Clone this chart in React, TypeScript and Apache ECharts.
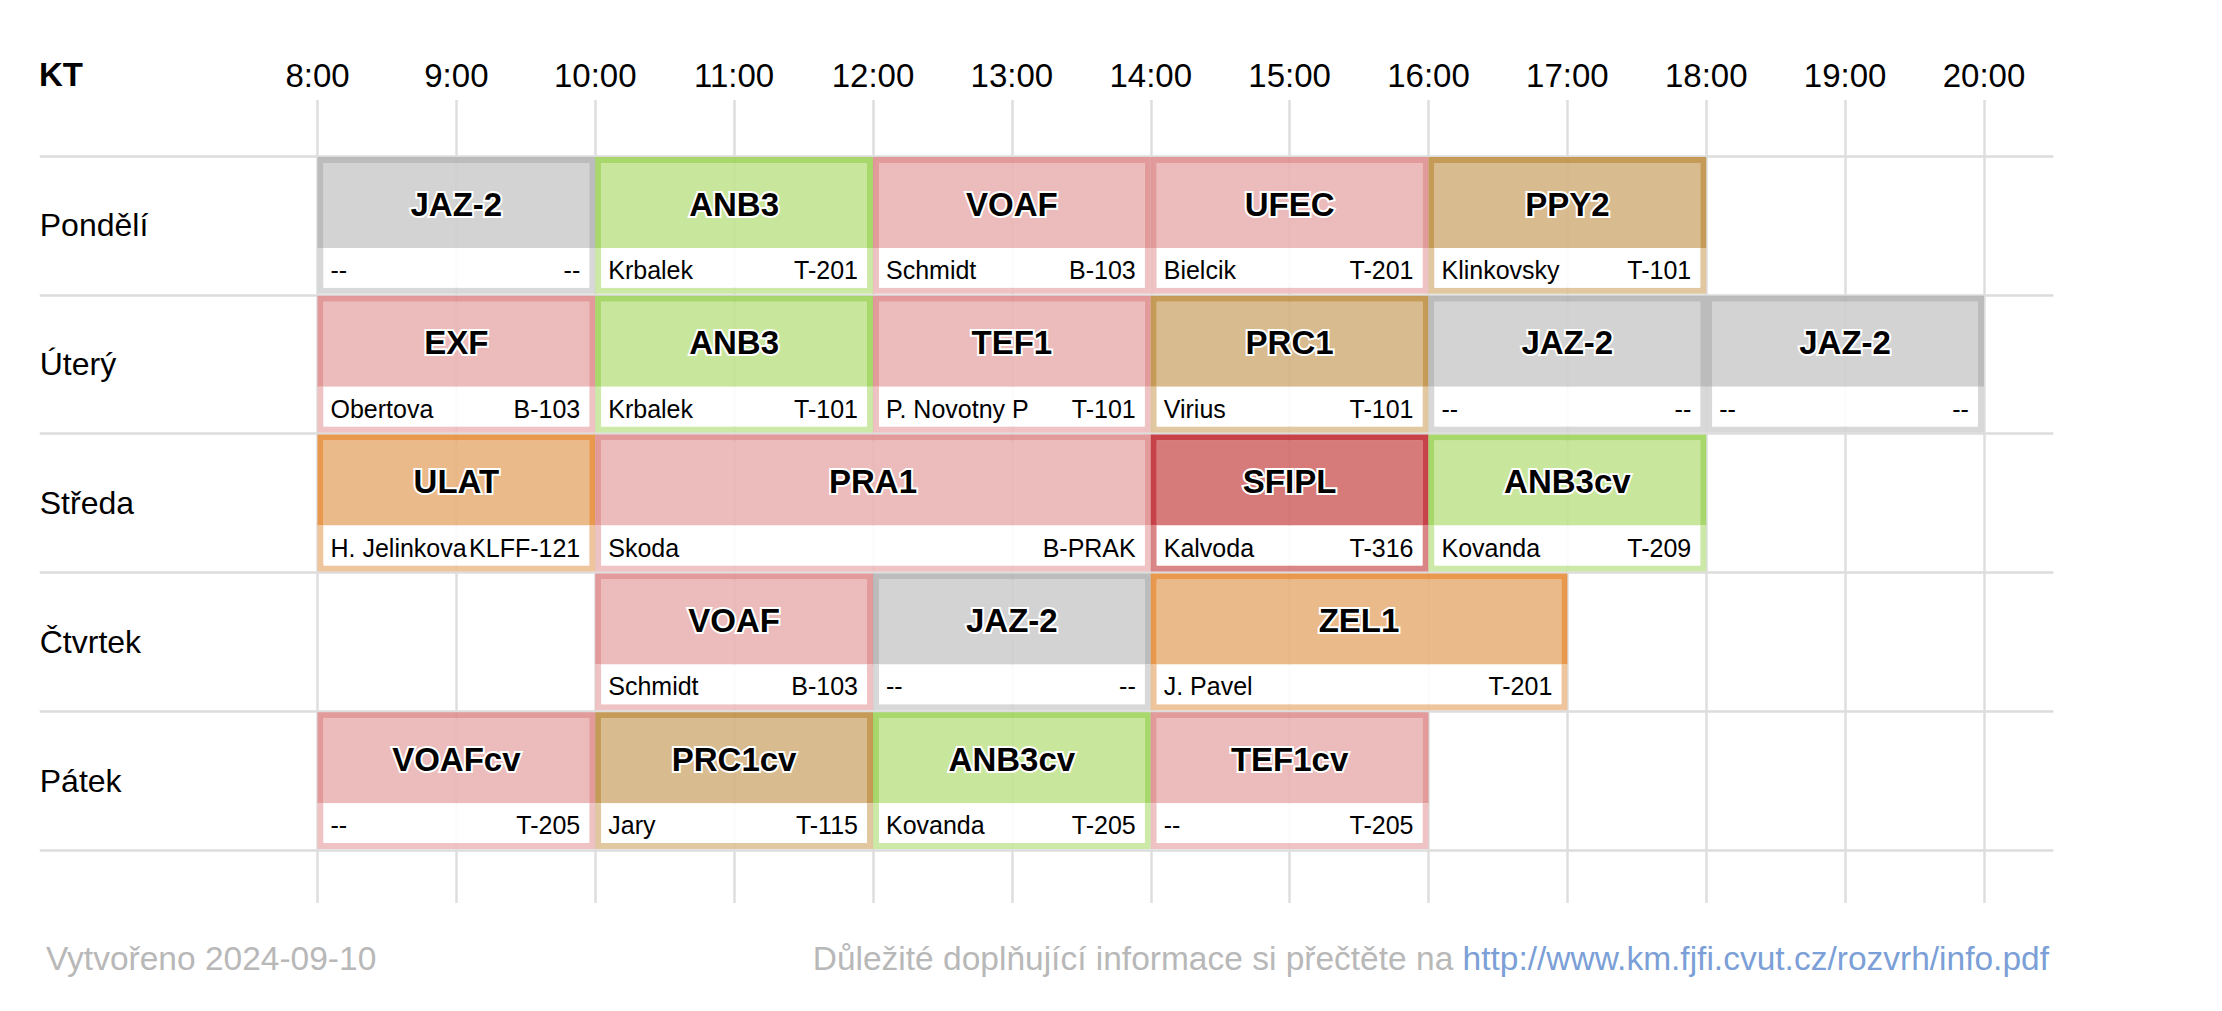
import React, { useEffect, useRef } from "react";
import * as echarts from "echarts";

// ---------- data ----------
const days = ["Pondělí", "Úterý", "Středa", "Čtvrtek", "Pátek"];
const hourTicks = [8, 20]; // first and last hour on the time axis

const eventDay = [0, 0, 0, 0, 0, 1, 1, 1, 1, 1, 1, 2, 2, 2, 2, 3, 3, 3, 4, 4, 4, 4];
const eventStart = [8, 10, 12, 14, 16, 8, 10, 12, 14, 16, 18, 8, 10, 14, 16, 10, 12, 14, 8, 10, 12, 14];
const eventEnd = [10, 12, 14, 16, 18, 10, 12, 14, 16, 18, 20, 10, 14, 16, 18, 12, 14, 17, 10, 12, 14, 16];
const eventCode = [
  "JAZ-2", "ANB3", "VOAF", "UFEC", "PPY2",
  "EXF", "ANB3", "TEF1", "PRC1", "JAZ-2", "JAZ-2",
  "ULAT", "PRA1", "SFIPL", "ANB3cv",
  "VOAF", "JAZ-2", "ZEL1",
  "VOAFcv", "PRC1cv", "ANB3cv", "TEF1cv",
];
const eventTeacher = [
  "--", "Krbalek", "Schmidt", "Bielcik", "Klinkovsky",
  "Obertova", "Krbalek", "P. Novotny P", "Virius", "--", "--",
  "H. Jelinkova", "Skoda", "Kalvoda", "Kovanda",
  "Schmidt", "--", "J. Pavel",
  "--", "Jary", "Kovanda", "--",
];
const eventRoom = [
  "--", "T-201", "B-103", "T-201", "T-101",
  "B-103", "T-101", "T-101", "T-101", "--", "--",
  "KLFF-121", "B-PRAK", "T-316", "T-209",
  "B-103", "--", "T-201",
  "T-205", "T-115", "T-205", "T-205",
];
const headerLabel = "KT";
const footerLeft = "Vytvořeno 2024-09-10";
const footerText = "Důležité doplňující informace si přečtěte na ";
const footerLink = "http://www.km.fjfi.cvut.cz/rozvrh/info.pdf";

// ---------- styles ----------
const FONT = "'Liberation Sans', Arial, Helvetica, sans-serif";
const palette: Record<string, { fill: string; strong: string; light: string }> = {
  gray: { fill: "#d3d3d3", strong: "#bcbcbc", light: "#d8d8d8" },
  green: { fill: "#c8e79c", strong: "#a9d86b", light: "#cde9a8" },
  pink: { fill: "#ecbcbc", strong: "#e39a9a", light: "#efc3c3" },
  tan: { fill: "#d8bc90", strong: "#c69b58", light: "#e1c8a1" },
  orange: { fill: "#ebbb8b", strong: "#e8994f", light: "#efc59d" },
  darkred: { fill: "#d67b7b", strong: "#c8434a", light: "#da8686" },
};
const courseColor: Record<string, string> = {
  "JAZ-2": "gray",
  ANB3: "green",
  ANB3cv: "green",
  VOAF: "pink",
  VOAFcv: "pink",
  UFEC: "pink",
  EXF: "pink",
  TEF1: "pink",
  TEF1cv: "pink",
  PRA1: "pink",
  PPY2: "tan",
  PRC1: "tan",
  PRC1cv: "tan",
  ULAT: "orange",
  ZEL1: "orange",
  SFIPL: "darkred",
};

const ALPHA = 0.9;
function tint(hex: string, a: number = ALPHA) {
  const f = (i: number) => {
    const c = parseInt(hex.slice(i, i + 2), 16);
    return Math.max(0, Math.min(255, Math.round((c - 255 * (1 - a)) / a)));
  };
  return `rgba(${f(1)},${f(3)},${f(5)},${a})`;
}

export default function App() {
  const ref = useRef<HTMLDivElement>(null);

  useEffect(() => {
    if (!ref.current) return;
    const chart = echarts.init(ref.current, null, { renderer: "svg" });

    const data = eventDay.map((d, i) => [eventStart[i], d, eventEnd[i]]);

    const option: any = {
      animation: false,
      backgroundColor: "#ffffff",
      textStyle: { fontFamily: FONT },
      grid: [
        { left: 317.5, right: 238, top: 100, bottom: 108 },
        { left: 39.75, right: 168.6, top: 156, bottom: 161 },
      ],
      xAxis: [
        {
          gridIndex: 0,
          type: "value",
          min: hourTicks[0],
          max: hourTicks[1],
          interval: 1,
          position: "top",
          axisLine: { show: false },
          axisTick: { show: false },
          axisLabel: {
            formatter: (v: number) => `${v}:00`,
            fontSize: 33,
            color: "#000",
            fontFamily: FONT,
            margin: 8,
          },
          splitLine: { show: true, lineStyle: { color: "#dedede", width: 2.5 } },
        },
        { gridIndex: 1, type: "value", min: 6, max: 20.5, show: false },
      ],
      yAxis: [
        { gridIndex: 0, type: "value", min: 0, max: 1, show: false },
        {
          gridIndex: 1,
          type: "category",
          data: days,
          inverse: true,
          axisLine: { show: false },
          axisTick: { show: false },
          axisLabel: {
            inside: true,
            align: "left",
            margin: 0,
            fontSize: 32,
            color: "#000",
            fontFamily: FONT,
          },
          splitLine: { show: true, lineStyle: { color: "#dcdcdc", width: 2.5 } },
        },
      ],
      series: [
        {
          type: "custom",
          xAxisIndex: 1,
          yAxisIndex: 1,
          data,
          renderItem: (params: any, api: any) => {
            const i = params.dataIndex;
            const s = api.value(0);
            const d = api.value(1);
            const e = api.value(2);
            const p0 = api.coord([s, d]);
            const p1 = api.coord([e, d]);
            const bandH = api.size([0, 1])[1];
            const x0 = p0[0];
            const x1 = p1[0];
            const y0 = p0[1] - bandH / 2 + 1;
            const y1 = p0[1] + bandH / 2 - 1;
            const B = 6;
            const ymid = y0 + 91;
            const pal = palette[courseColor[eventCode[i]]] || palette.gray;
            const panelBottom = y1 - B;
            const textY = (ymid + panelBottom) / 2 + 2;
            return {
              type: "group",
              children: [
                {
                  type: "rect",
                  shape: { x: x0 + B, y: y0 + B, width: x1 - x0 - 2 * B, height: ymid - y0 - B },
                  style: { fill: tint(pal.fill) },
                },
                {
                  type: "polyline",
                  shape: {
                    points: [
                      [x0 + B / 2, ymid],
                      [x0 + B / 2, y0 + B / 2],
                      [x1 - B / 2, y0 + B / 2],
                      [x1 - B / 2, ymid],
                    ],
                  },
                  style: { stroke: tint(pal.strong), lineWidth: B, fill: null },
                },
                {
                  type: "polyline",
                  shape: {
                    points: [
                      [x0 + B / 2, ymid],
                      [x0 + B / 2, y1 - B / 2],
                      [x1 - B / 2, y1 - B / 2],
                      [x1 - B / 2, ymid],
                    ],
                  },
                  style: { stroke: tint(pal.light), lineWidth: B, fill: null },
                },
                {
                  type: "rect",
                  shape: { x: x0 + B, y: ymid, width: x1 - x0 - 2 * B, height: panelBottom - ymid },
                  style: { fill: "rgba(255,255,255,0.9)" },
                },
                {
                  type: "text",
                  style: {
                    x: (x0 + x1) / 2,
                    y: y0 + 47,
                    text: eventCode[i],
                    align: "center",
                    verticalAlign: "middle",
                    font: `bold 33px ${FONT}`,
                    fill: "#000",
                    stroke: "#fff",
                    lineWidth: 4,
                  },
                },
                {
                  type: "text",
                  style: {
                    x: x0 + 13,
                    y: textY,
                    text: eventTeacher[i],
                    align: "left",
                    verticalAlign: "middle",
                    font: `25px ${FONT}`,
                    fill: "#000",
                  },
                },
                {
                  type: "text",
                  style: {
                    x: x1 - 15,
                    y: textY,
                    text: eventRoom[i],
                    align: "right",
                    verticalAlign: "middle",
                    font: `25px ${FONT}`,
                    fill: "#000",
                  },
                },
              ],
            };
          },
        },
      ],
      graphic: [
        {
          type: "text",
          left: 39,
          top: 58,
          style: {
            text: headerLabel,
            font: `bold 33px ${FONT}`,
            fill: "#000",
          },
        },
        {
          type: "text",
          x: 46,
          y: 958,
          style: {
            text: footerLeft,
            font: `33.5px ${FONT}`,
            fill: "#b8b8b8",
            align: "left",
            verticalAlign: "middle",
          },
        },
        {
          type: "text",
          x: 2049,
          y: 958,
          style: {
            text: `{a|${footerText}}{b|${footerLink}}`,
            align: "right",
            verticalAlign: "middle",
            rich: {
              a: { fontSize: 33.5, fontFamily: FONT, fill: "#b8b8b8", color: "#b8b8b8" },
              b: { fontSize: 33.5, fontFamily: FONT, fill: "#7b9fd6", color: "#7b9fd6" },
            },
          },
        },
      ],
    };

    chart.setOption(option);
    return () => chart.dispose();
  }, []);

  return (
    <div
      ref={ref}
      style={{ position: "absolute", left: 0, top: 0, width: 2222, height: 1011, background: "#fff" }}
    />
  );
}
